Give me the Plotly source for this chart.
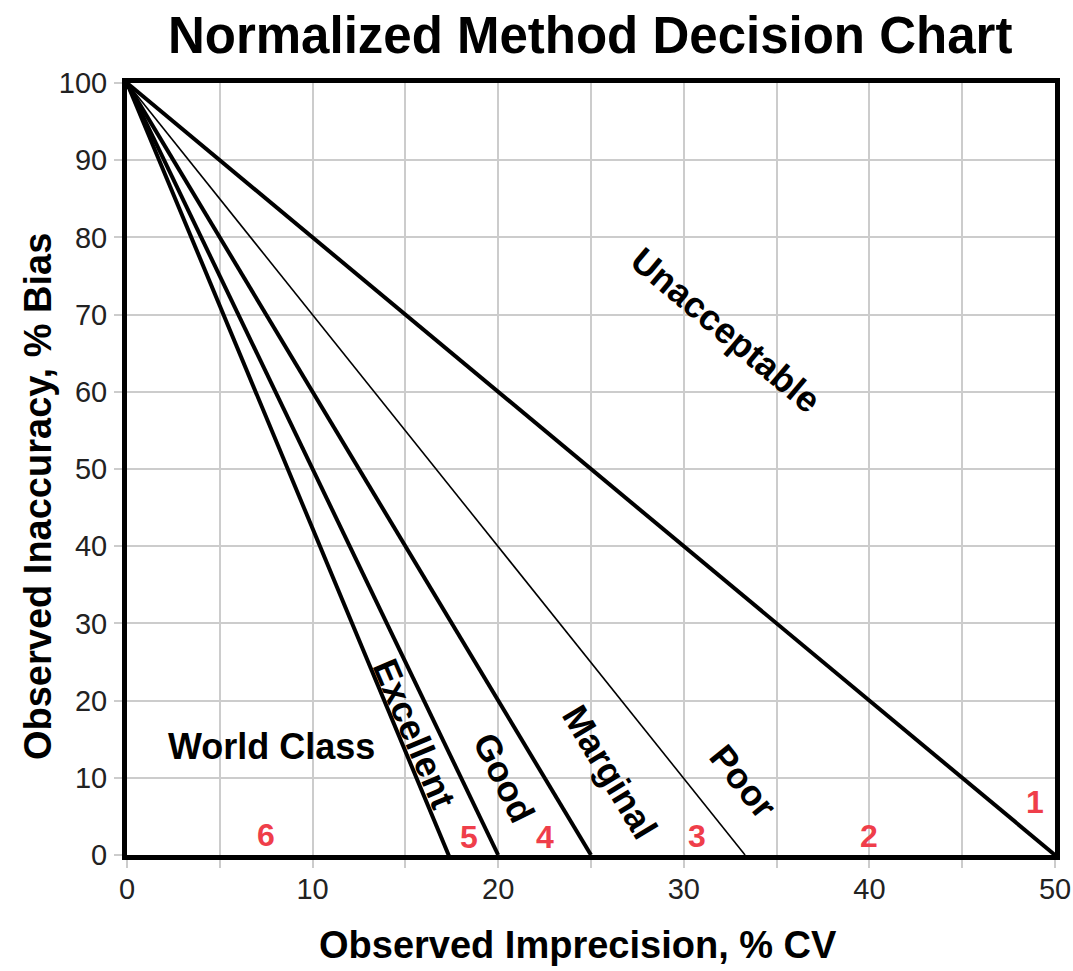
import plotly.graph_objects as go

# decision boundaries: all start at (0 %CV, 100 %bias)
start_cv = 0
start_bias = 100
end_cv = [50, 33.3, 25, 20, 17.5]
end_bias = [0, 0, 0, 0, -1]
line_widths = [4, 1.6, 4, 4, 4]

# region labels
region_names = ["Unacceptable", "Poor", "Marginal", "Good", "Excellent", "World Class"]
region_x = [32.3, 33.2, 26.0, 20.3, 15.5, 7.8]
region_y = [68.0, 9.5, 10.8, 10.0, 15.8, 14.0]
region_angle = [40, 51, 59, 64, 67, 0]

# sigma numbers (red)
sigma_labels = ["1", "2", "3", "4", "5", "6"]
sigma_x = [48.9, 40.0, 30.7, 22.5, 18.4, 7.5]
sigma_y = [6.9, 2.4, 2.4, 2.3, 2.3, 2.6]

x_ticks = list(range(0, 55, 5))
x_ticktext = [str(v) if v % 10 == 0 else "" for v in x_ticks]
y_ticks = list(range(0, 110, 10))

FONT = "Liberation Sans, Arial, Helvetica, sans-serif"

fig = go.Figure()

for xe, ye, w in zip(end_cv, end_bias, line_widths):
    fig.add_trace(go.Scatter(
        x=[start_cv, xe],
        y=[start_bias, ye],
        mode="lines",
        line=dict(color="black", width=w),
        cliponaxis=False,
        hoverinfo="skip",
        showlegend=False
    ))

for name, x, y, ang in zip(region_names, region_x, region_y, region_angle):
    fig.add_annotation(
        x=x, y=y, text=f"<b>{name}</b>", showarrow=False, textangle=ang,
        font=dict(family=FONT, size=36, color="black")
    )

for lab, x, y in zip(sigma_labels, sigma_x, sigma_y):
    fig.add_annotation(
        x=x, y=y, text=f"<b>{lab}</b>", showarrow=False,
        font=dict(family=FONT, size=32, color="#ef3e4a")
    )

# axis titles as annotations (they sit a bit off-centre in the original)
fig.add_annotation(
    xref="paper", yref="paper", x=0.486, y=-0.1166,
    text="<b>Observed Imprecision, % CV</b>", showarrow=False,
    xanchor="center", yanchor="middle",
    font=dict(family=FONT, size=38, color="black")
)
fig.add_annotation(
    xref="paper", yref="paper", x=-0.0959, y=0.4637,
    text="<b>Observed Inaccuracy, % Bias</b>", showarrow=False, textangle=-90,
    xanchor="center", yanchor="middle",
    font=dict(family=FONT, size=38, color="black")
)

fig.update_layout(
    width=1073,
    height=971,
    paper_bgcolor="white",
    plot_bgcolor="white",
    font=dict(family=FONT, color="black"),
    margin=dict(l=127, r=18, t=83, b=116),
    title=dict(
        text="<b>Normalized Method Decision Chart</b>",
        x=0.55, xanchor="center", y=0.964, yanchor="middle",
        font=dict(family=FONT, size=51, color="black")
    ),
    xaxis=dict(
        range=[0, 50],
        automargin=False,
        tickvals=x_ticks, ticktext=x_ticktext,
        ticklabeloverflow="allow",
        showgrid=True, gridcolor="#cccccc", gridwidth=2,
        ticks="outside", ticklen=8, tickwidth=2, tickcolor="#cccccc",
        showline=True, linecolor="black", linewidth=5, mirror=True,
        zeroline=False,
        tickfont=dict(family=FONT, size=29, color="#222222"),
        ticklabelstandoff=-4
    ),
    yaxis=dict(
        range=[0, 100],
        automargin=False,
        tickvals=y_ticks,
        showgrid=True, gridcolor="#cccccc", gridwidth=2,
        ticks="outside", ticklen=8, tickwidth=2, tickcolor="#cccccc",
        showline=True, linecolor="black", linewidth=5, mirror=True,
        zeroline=False,
        tickfont=dict(family=FONT, size=29, color="#222222"),
        ticklabelstandoff=1
    )
)

# drop the default 8px body margin so the figure fills the window exactly
fig.write_html(
    "out.html",
    config={"displayModeBar": False},
    post_script="document.body.style.margin = '0';"
)
